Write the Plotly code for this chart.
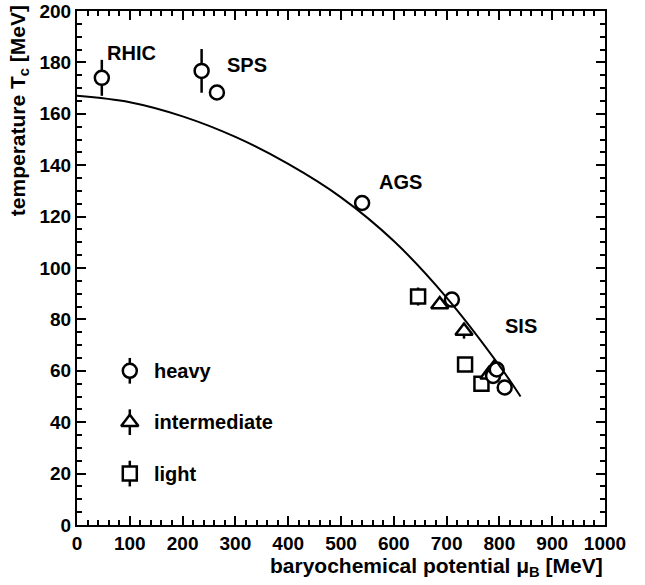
import plotly.graph_objects as go

# ---- data ----
curve_mu = [0, 100, 200, 300, 400, 500, 600, 700, 800, 840]
curve_T = [167, 164.5, 159, 151, 140.5, 127.5, 110.5, 88.5, 62, 50]

heavy_mu = [47, 236, 265, 540, 710, 788, 795, 810]
heavy_T = [174, 176.7, 168.3, 125.3, 87.7, 58, 60.5, 53.5]
heavy_err = [7, 8.5, 0, 0, 2.5, 0, 0, 0]

inter_mu = [687, 733, 780, 790]
inter_T = [85.8, 75.5, 58.5, 61]
inter_err = [0, 3, 0, 0]

light_mu = [646, 735, 766]
light_T = [88.9, 62.5, 55]
light_err = [3.5, 0, 0]

legend_labels = ["heavy", "intermediate", "light"]
legend_T = [60, 40, 20]
legend_mu = 100
legend_err = 5

region_labels = ["RHIC", "SPS", "AGS", "SIS"]
region_mu = [103, 322, 613, 841]
region_T = [183.5, 179, 133.5, 77.5]

FONT = "Liberation Sans"
BLACK = "black"

fig = go.Figure()

def add_pts(xs, ys, errs, symbol, size):
    fig.add_trace(go.Scatter(
        x=xs, y=ys, mode="markers",
        marker=dict(symbol=symbol, size=size, color="white",
                    line=dict(color=BLACK, width=2.5)),
        error_y=dict(type="data", array=errs, visible=True, width=0,
                     thickness=2.5, color=BLACK),
        showlegend=False))

add_pts(light_mu, light_T, light_err, "square", 14)
add_pts(inter_mu, inter_T, inter_err, "triangle-up", 15)
add_pts(heavy_mu, heavy_T, heavy_err, "circle", 14)

fig.add_trace(go.Scatter(x=curve_mu, y=curve_T, mode="lines",
                         line=dict(color=BLACK, width=2, shape="spline"),
                         showlegend=False, hoverinfo="skip"))

# legend drawn inside the plot
syms = ["circle", "triangle-up", "square"]
sizes = [14, 15, 14]
for lab, t, s, sz in zip(legend_labels, legend_T, syms, sizes):
    add_pts([legend_mu], [t], [legend_err], s, sz)
    fig.add_annotation(x=legend_mu + 42, y=t, text=lab, showarrow=False,
                       xanchor="left", yanchor="middle",
                       font=dict(family=FONT, size=20, color=BLACK, weight="bold"))

for lab, m, t in zip(region_labels, region_mu, region_T):
    fig.add_annotation(x=m, y=t, text=lab, showarrow=False,
                       xanchor="center", yanchor="middle",
                       font=dict(family=FONT, size=20, color=BLACK, weight="bold"))

# axis titles as annotations (right/top aligned)
fig.add_annotation(xref="paper", yref="paper", x=1.0, y=-0.052,
                   text="baryochemical potential μ<sub>B</sub> [MeV]",
                   showarrow=False, xanchor="right", yanchor="top",
                   font=dict(family=FONT, size=21, color=BLACK, weight="bold"))
fig.add_annotation(xref="paper", yref="paper", x=-0.11, y=1.016,
                   text="temperature T<sub>c</sub> [MeV]",
                   textangle=-90, showarrow=False, xanchor="center", yanchor="top",
                   font=dict(family=FONT, size=21, color=BLACK, weight="bold"))

axis_common = dict(showgrid=False, zeroline=False, showline=True,
                   linecolor=BLACK, linewidth=2, mirror="allticks",
                   ticks="inside", tickcolor=BLACK, tickwidth=2,
                   ticklabeloverflow="allow", automargin=False,
                   tickfont=dict(family=FONT, size=19, color=BLACK, weight="bold"))

fig.update_xaxes(range=[0, 1000], dtick=100, tick0=0, ticklen=9,
                 minor=dict(dtick=20, ticks="inside", ticklen=5, tickwidth=2,
                            tickcolor=BLACK),
                 **axis_common)
fig.update_yaxes(range=[0, 200], dtick=20, tick0=0, ticklen=9,
                 minor=dict(dtick=5, ticks="inside", ticklen=5, tickwidth=2,
                            tickcolor=BLACK),
                 **axis_common)

fig.update_layout(width=645, height=585,
                  margin=dict(l=77, r=40, t=11, b=60, autoexpand=False),
                  paper_bgcolor="white", plot_bgcolor="white",
                  showlegend=False)

fig.write_html("out.html")
